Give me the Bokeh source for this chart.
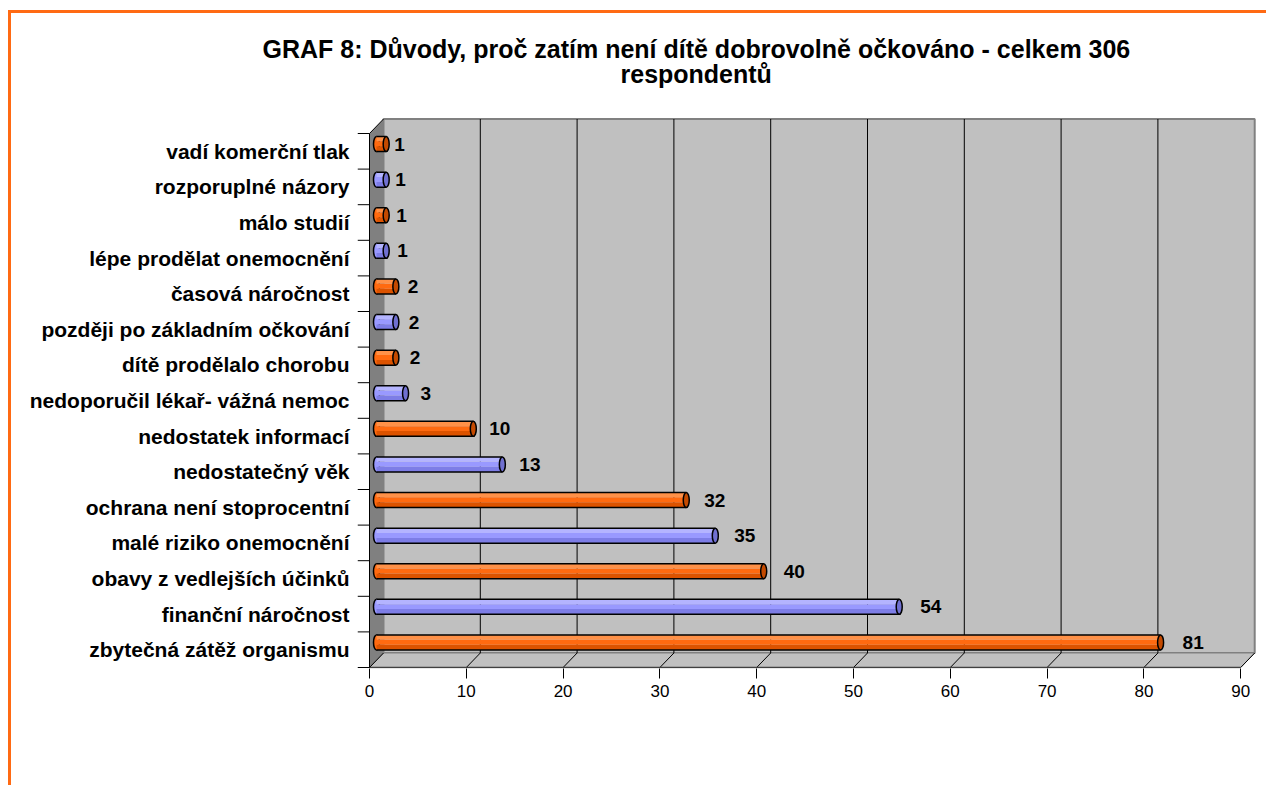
from bokeh.plotting import figure
from bokeh.models import FixedTicker, Title, ColumnDataSource
from bokeh.embed import file_html
from bokeh.resources import INLINE
from bokeh.core.properties import value

# ---- data -------------------------------------------------------------
categories = [
    "zbytečná zátěž organismu",
    "finanční náročnost",
    "obavy z vedlejších účinků",
    "malé riziko onemocnění",
    "ochrana není stoprocentní",
    "nedostatečný věk",
    "nedostatek informací",
    "nedoporučil lékař- vážná nemoc",
    "dítě prodělalo chorobu",
    "později po základním očkování",
    "časová náročnost",
    "lépe prodělat onemocnění",
    "málo studií",
    "rozporuplné názory",
    "vadí komerční tlak",
]
counts = [81, 54, 40, 35, 32, 13, 10, 3, 2, 2, 2, 1, 1, 1, 1]
x_ticks = [0, 10, 20, 30, 40, 50, 60, 70, 80, 90]
title_lines = [
    "GRAF 8: Důvody, proč zatím není dítě dobrovolně očkováno - celkem 306",
    "respondentů",
]

# ---- geometry of the pseudo-3D box ----------------------------------------
FONT = "Liberation Sans"
PX_X = 9.68          # pixels per unit on the value axis
PX_Y = 35.6          # pixels per category row
FRAME_L, FRAME_T = 357, 117
FRAME_W, FRAME_H = 900, 551
X_MAX = x_ticks[-1]
N = len(categories)

x_start = -12 / PX_X
y_start = -0.5 - 1 / PX_Y
x_end = x_start + FRAME_W / PX_X
y_end = y_start + FRAME_H / PX_Y

DX = 14 / PX_X       # depth shift of the back wall
DY = 14.5 / PX_Y
Y_LO, Y_HI = -0.5, N - 0.5

ORANGE_LINE = "#FF6A13"
frame_css = (
    f"linear-gradient({ORANGE_LINE},{ORANGE_LINE}) 8px 10px / 3px 100% no-repeat, "
    f"linear-gradient({ORANGE_LINE},{ORANGE_LINE}) 8px 10px / 100% 3px no-repeat, white"
)

p = figure(
    frame_width=FRAME_W, frame_height=FRAME_H,
    min_border_left=FRAME_L, min_border_right=1266 - FRAME_L - FRAME_W,
    min_border_top=FRAME_T, min_border_bottom=785 - FRAME_T - FRAME_H,
    x_range=(x_start, x_end), y_range=(y_start, y_end),
    output_backend="svg", toolbar_location=None,
    background_fill_color="white", border_fill_alpha=0,
    outline_line_color=None,
    styles={"background": frame_css},
)
p.xgrid.visible = False
p.ygrid.visible = False

# ---- axes -------------------------------------------------------------------
xa = p.xaxis[0]
xa.ticker = FixedTicker(ticks=x_ticks)
xa.axis_line_color = None
xa.major_tick_in = 0
xa.major_tick_out = 10
xa.major_tick_line_color = "black"
xa.minor_tick_line_color = None
xa.major_label_standoff = 6
xa.major_label_text_font = FONT
xa.major_label_text_font_size = "17px"
xa.major_label_text_color = "black"

ya = p.yaxis[0]
ya.ticker = FixedTicker(ticks=list(range(N)))
ya.major_label_overrides = {i: c for i, c in enumerate(categories)}
ya.axis_line_color = None
ya.major_tick_line_color = None
ya.major_tick_in = 0
ya.major_tick_out = 0
ya.minor_tick_line_color = None
ya.major_label_standoff = 8
ya.major_label_text_font = FONT
ya.major_label_text_font_style = "bold"
ya.major_label_text_font_size = "21px"
ya.major_label_text_color = "black"

# ---- walls and floor --------------------------------------------------------
p.quad(left=DX, right=X_MAX + DX, bottom=Y_LO + DY, top=Y_HI + DY,
       fill_color="#C0C0C0", line_color="#808080", line_width=2)
p.patch([0, X_MAX, X_MAX + DX, DX], [Y_LO, Y_LO, Y_LO + DY, Y_LO + DY],
        fill_color="#C0C0C0", line_color="#808080", line_width=1)
p.patch([0, 0, DX, DX], [Y_LO, Y_HI, Y_HI + DY, Y_LO + DY],
        fill_color="#808080", line_color=None)

inner = x_ticks[1:-1]
p.segment(x0=[t + DX for t in inner], y0=[Y_LO + DY] * len(inner),
          x1=[t + DX for t in inner], y1=[Y_HI + DY] * len(inner),
          line_color="black", line_width=1)
p.segment(x0=x_ticks, y0=[Y_LO] * len(x_ticks),
          x1=[t + DX for t in x_ticks], y1=[Y_LO + DY] * len(x_ticks),
          line_color="black", line_width=1)
# front edge of the floor, value axis line
p.segment(x0=[0], y0=[Y_LO], x1=[X_MAX], y1=[Y_LO], line_color="#404040", line_width=1.5)
# category axis line, top edge of the side wall
p.segment(x0=[0, 0], y0=[Y_LO, Y_HI], x1=[0, DX], y1=[Y_HI, Y_HI + DY],
          line_color="black", line_width=1)
# tick marks between categories
bounds = [k - 0.5 for k in range(N + 1)]
p.segment(x0=[x_start] * len(bounds), y0=bounds, x1=[0] * len(bounds), y1=bounds,
          line_color="black", line_width=1)

# ---- cylinders ----------------------------------------------------------
orange = dict(light="#FF9148", mid="#FF6A10", dark="#DC5300", cap="#C44A00")
lilac = dict(light="#B4B4FF", mid="#9999FF", dark="#7D7DE6", cap="#7070D0")
pal = [orange if i % 2 == 0 else lilac for i in range(N)]

bar_h = 15 / PX_Y
cap_w = 6 / PX_X
yc = [i + DY / 2 for i in range(N)]
x0 = [DX / 2] * N
x1 = [c + DX / 2 for c in counts]

src = ColumnDataSource(dict(
    x0=x0, x1=x1, y=yc,
    ybot=[y - bar_h / 2 for y in yc], ytop=[y + bar_h / 2 for y in yc],
    light=[c["light"] for c in pal], mid=[c["mid"] for c in pal],
    dark=[c["dark"] for c in pal], cap=[c["cap"] for c in pal],
    label=[str(c) for c in counts],
    loff=[22 - i for i in range(N)],
))

p.ellipse(x="x0", y="y", width=cap_w, height=bar_h, source=src,
          fill_color="mid", line_color="black", line_width=1.5)
# body shading in three horizontal bands
bands = [(0.0, 0.35, "dark"), (0.35, 0.68, "mid"), (0.68, 1.0, "light")]
for lo, hi, col in bands:
    b = ColumnDataSource(dict(
        left=x0, right=x1,
        bottom=[y - bar_h / 2 + lo * bar_h for y in yc],
        top=[y - bar_h / 2 + hi * bar_h for y in yc],
        color=src.data[col],
    ))
    p.quad(left="left", right="right", bottom="bottom", top="top",
           fill_color="color", line_color=None, source=b)
p.segment(x0="x0", y0="ybot", x1="x1", y1="ybot", source=src,
          line_color="black", line_width=1.5)
p.segment(x0="x0", y0="ytop", x1="x1", y1="ytop", source=src,
          line_color="black", line_width=1.5)
p.ellipse(x="x1", y="y", width=cap_w, height=bar_h, source=src,
          fill_color="cap", line_color="black", line_width=1.5)

p.text(x="x1", y="y", text="label", x_offset="loff", source=src,
       text_align="left", text_baseline="middle",
       text_font=value(FONT), text_font_style="bold",
       text_font_size="19px", text_color="black")

# ---- two-line title, stacked above the frame -----------------------------
# (second line sits next to the frame, first line stacked above it)
title_style = dict(align="left", text_font=FONT, text_font_style="bold",
                   text_font_size="25px", text_color="black")
p.add_layout(Title(text=title_lines[1], offset=620 - FRAME_L, standoff=59,
                   **title_style), "above")
p.add_layout(Title(text=title_lines[0], offset=262 - FRAME_L, standoff=-69,
                   **title_style), "above")

open("out.html", "w").write(file_html(p, INLINE))
